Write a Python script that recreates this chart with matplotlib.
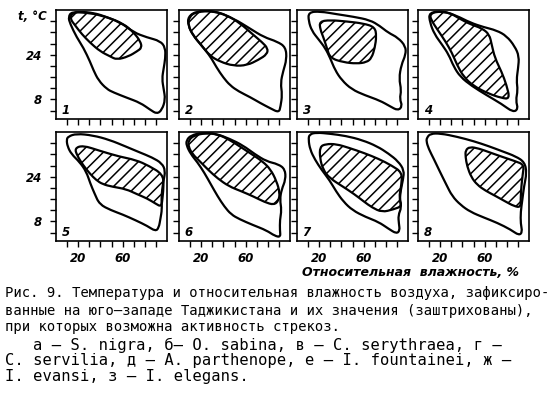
import matplotlib.pyplot as plt
from matplotlib.path import Path
from matplotlib.patches import PathPatch

plt.rcParams['hatch.linewidth'] = 1.1
plt.rcParams['font.family'] = ['DejaVu Sans']

# contours: (relative humidity %, temperature C)
outer_1 = [(14.2, 39.4), (27.7, 39.0), (39.8, 38.2), (57.8, 35.7), (69.9, 32.0), (81.9, 30.2),
           (94.0, 28.9), (98.5, 26.5), (98.5, 22.8), (97.0, 19.1), (95.5, 15.4), (97.0, 11.7),
           (98.5, 8.0), (95.5, 4.3), (91.0, 2.8), (84.9, 4.3), (75.9, 6.8), (63.9, 8.6),
           (51.8, 10.5), (45.8, 11.7), (38.3, 14.8), (33.7, 18.5), (30.7, 21.5), (24.7, 26.5),
           (18.7, 30.2), (12.7, 35.1), (11.1, 37.5)]
hatch_1 = [(14.2, 38.8), (21.7, 39.4), (33.7, 39.0), (45.8, 37.5), (60.8, 35.1), (69.9, 32.0),
           (75.9, 28.9), (77.4, 26.5), (72.9, 25.2), (65.4, 23.4), (54.8, 22.2), (48.8, 23.4),
           (39.8, 25.2), (30.7, 28.3), (23.2, 31.4), (17.2, 34.5), (12.7, 36.9)]

outer_2 = [(8.2, 37.6), (15.8, 39.6), (30.9, 39.8), (49.1, 37.0), (64.2, 33.3), (76.4, 30.3),
           (88.5, 28.7), (96.1, 26.7), (97.0, 22.4), (93.9, 18.2), (91.5, 13.9), (93.0, 9.7),
           (91.5, 5.5), (90.0, 3.3), (82.4, 4.8), (73.3, 6.7), (64.2, 8.8), (53.6, 10.9),
           (46.1, 13.0), (40.0, 15.8), (33.9, 19.4), (27.9, 23.6), (20.3, 27.3), (12.7, 30.9),
           (8.2, 34.5)]
hatch_2 = [(9.1, 37.6), (15.8, 39.4), (30.9, 39.6), (43.0, 38.2), (55.2, 35.2), (65.8, 31.5),
           (74.8, 28.5), (80.0, 26.3), (79.4, 24.2), (71.8, 22.2), (61.2, 20.2), (49.1, 20.0),
           (37.0, 21.5), (27.9, 23.6), (20.3, 27.3), (12.7, 30.9), (8.2, 34.5)]

outer_3 = [(10.4, 39.2), (20.9, 39.5), (35.8, 38.5), (50.7, 37.6), (65.7, 36.4), (74.6, 34.3),
           (82.1, 31.9), (91.0, 30.1), (97.9, 27.0), (97.9, 24.0), (94.0, 20.4), (91.9, 15.5),
           (94.0, 11.3), (92.5, 8.2), (94.9, 5.6), (91.0, 4.0), (83.6, 5.6), (74.6, 7.6),
           (61.2, 9.5), (49.3, 11.6), (40.3, 14.9), (34.3, 18.5), (29.9, 22.8), (25.4, 26.4),
           (19.4, 29.5), (13.4, 32.5), (10.4, 36.1)]
hatch_3 = [(20.3, 35.9), (29.9, 36.4), (44.8, 35.9), (59.7, 35.2), (70.1, 33.9), (71.6, 30.7),
           (70.1, 26.4), (67.2, 22.8), (62.7, 21.3), (53.7, 20.8), (41.8, 21.3), (29.9, 22.8),
           (26.9, 26.4), (23.9, 30.1), (20.9, 33.1)]

outer_4 = [(9.8, 39.2), (23.2, 39.5), (35.1, 37.9), (47.0, 35.5), (58.9, 33.9), (70.8, 32.7),
           (79.8, 30.7), (87.2, 27.0), (91.1, 23.4), (90.2, 19.2), (88.7, 14.9), (89.9, 11.3),
           (88.1, 7.6), (90.2, 4.6), (85.7, 3.4), (75.3, 6.4), (61.9, 9.5), (48.5, 12.8),
           (38.1, 16.1), (32.1, 19.8), (27.7, 24.0), (21.7, 27.6), (14.9, 31.3), (10.7, 35.5)]
hatch_4 = [(10.7, 38.5), (17.3, 39.5), (27.7, 39.2), (36.6, 37.1), (47.0, 34.9), (57.4, 33.5),
           (64.3, 31.3), (66.4, 27.6), (69.3, 22.8), (75.3, 17.9), (79.8, 13.1), (82.7, 8.2),
           (75.3, 8.5), (63.4, 10.1), (50.0, 12.8), (41.1, 16.1), (35.1, 20.4), (30.7, 24.6),
           (24.7, 28.8), (17.3, 33.1), (11.9, 36.4)]

outer_5 = [(11.0, 38.4), (18.4, 39.4), (33.2, 38.8), (48.1, 37.2), (62.9, 34.8), (74.8, 32.8),
           (86.6, 30.9), (95.5, 28.8), (98.5, 26.1), (97.0, 22.8), (95.5, 19.2), (95.0, 15.6),
           (95.5, 12.4), (94.1, 9.0), (92.6, 5.7), (89.6, 4.5), (82.2, 6.4), (71.8, 8.4),
           (59.9, 10.5), (49.6, 12.0), (39.2, 14.1), (34.7, 18.0), (30.9, 21.6), (27.3, 25.8),
           (21.4, 29.2), (13.9, 32.1), (10.4, 34.8), (9.5, 37.2)]
hatch_5 = [(16.9, 34.2), (24.3, 35.2), (39.2, 33.3), (57.0, 31.2), (71.8, 30.0), (83.7, 27.9),
           (96.1, 24.9), (97.0, 21.0), (96.1, 16.8), (95.0, 13.2), (89.6, 14.4), (82.2, 16.2),
           (73.3, 17.7), (62.9, 19.6), (51.0, 20.4), (42.1, 21.3), (36.2, 22.8), (30.3, 25.2),
           (24.3, 28.2), (19.0, 31.6)]

outer_6 = [(6.7, 37.0), (10.6, 38.8), (21.2, 39.8), (33.3, 39.4), (45.5, 37.6), (57.6, 35.2),
           (68.2, 32.1), (78.8, 29.5), (89.4, 28.5), (95.5, 26.7), (96.1, 23.0), (92.4, 19.4),
           (90.9, 15.8), (92.4, 12.1), (90.9, 8.5), (90.9, 4.8), (91.5, 2.4), (86.4, 2.8),
           (78.8, 4.8), (66.7, 6.7), (54.5, 8.8), (47.0, 10.5), (40.9, 13.3), (34.8, 17.0),
           (28.8, 21.2), (22.7, 25.5), (16.7, 29.1), (10.6, 32.1), (6.7, 35.2)]
hatch_6 = [(8.5, 37.0), (13.6, 38.8), (24.2, 39.6), (34.8, 39.2), (45.5, 37.2), (56.1, 34.5),
           (66.1, 31.9), (75.2, 29.5), (82.4, 26.7), (87.9, 22.4), (90.9, 18.2), (89.7, 15.4),
           (85.5, 13.9), (77.3, 14.9), (66.7, 17.0), (56.1, 18.8), (44.8, 20.6), (34.8, 23.4),
           (26.7, 26.3), (18.8, 29.5), (12.1, 32.1), (8.5, 34.8)]

outer_7 = [(11.2, 39.2), (17.6, 39.8), (29.4, 39.4), (44.1, 38.6), (58.8, 37.1), (72.1, 34.9),
           (82.4, 32.3), (91.2, 29.5), (96.5, 26.3), (95.6, 23.1), (93.5, 19.3), (92.6, 15.7),
           (94.1, 13.0), (91.2, 10.2), (91.8, 7.2), (92.6, 4.8), (89.7, 3.6), (82.4, 5.4),
           (73.5, 7.8), (61.8, 9.6), (50.0, 12.0), (41.8, 15.1), (35.3, 18.7), (29.4, 22.7),
           (22.1, 26.5), (16.2, 30.1), (11.8, 33.7), (10.3, 37.3)]
hatch_7 = [(20.6, 34.7), (25.9, 35.7), (35.3, 35.7), (47.1, 34.3), (60.3, 32.5), (73.5, 30.4),
           (85.3, 28.0), (94.7, 25.5), (94.1, 21.1), (91.8, 16.3), (94.7, 13.5), (86.8, 12.3),
           (76.5, 11.3), (67.6, 13.0), (60.3, 15.1), (51.5, 17.8), (41.2, 20.5), (29.4, 23.5),
           (23.5, 26.5), (20.6, 30.7)]

outer_8 = [(8.1, 38.0), (11.1, 39.4), (20.2, 39.5), (35.2, 38.3), (50.3, 36.7), (63.9, 34.9),
           (75.9, 33.1), (88.0, 31.3), (96.1, 29.2), (97.9, 25.3), (95.5, 20.5), (94.0, 15.7),
           (92.5, 11.4), (92.5, 7.2), (94.0, 4.2), (91.0, 3.0), (83.4, 5.1), (71.4, 7.5),
           (59.3, 9.4), (47.3, 11.4), (38.3, 13.9), (30.7, 17.1), (25.6, 21.1), (19.6, 25.9),
           (14.2, 30.4), (9.6, 34.0), (7.5, 36.7)]
hatch_8 = [(42.8, 33.5), (46.7, 34.7), (54.8, 34.1), (63.9, 32.8), (75.9, 31.1), (88.0, 29.5),
           (95.5, 28.3), (94.3, 24.7), (93.1, 20.5), (92.5, 16.3), (92.5, 13.0), (86.4, 13.5),
           (78.9, 15.1), (69.9, 17.1), (60.8, 19.0), (53.3, 21.1), (47.9, 23.9), (44.3, 27.7),
           (42.8, 31.1)]

outers = [outer_1, outer_2, outer_3, outer_4, outer_5, outer_6, outer_7, outer_8]
hatches = [hatch_1, hatch_2, hatch_3, hatch_4, hatch_5, hatch_6, hatch_7, hatch_8]
panel_labels = ['1', '2', '3', '4', '5', '6', '7', '8']

x_ticks = [10, 20, 30, 40, 50, 60, 70, 80, 90]
x_labels = ['', '20', '', '', '', '60', '', '', '']
y_ticks = [4, 8, 12, 16, 20, 24, 28, 32, 36]
y_labels = ['', '8', '', '', '', '24', '', '', '']

caption = [
    'Рис. 9. Температура и относительная влажность воздуха, зафиксиро-',
    'ванные на юго–западе Таджикистана и их значения (заштрихованы),',
    'при которых возможна активность стрекоз.',
]
species = [
    'а – S. nigra, б– O. sabina, в – C. serythraea, г –',
    'C. servilia, д – A. parthenope, е – I. fountainei, ж –',
    'I. evansi, з – I. elegans.',
]


def smooth(pts):
    # closed quadratic curve through the midpoints of the traced points
    n = len(pts)
    mids = [((pts[i][0] + pts[(i + 1) % n][0]) / 2, (pts[i][1] + pts[(i + 1) % n][1]) / 2)
            for i in range(n)]
    verts = [mids[-1]]
    codes = [Path.MOVETO]
    for i in range(n):
        verts += [pts[i], mids[i]]
        codes += [Path.CURVE3, Path.CURVE3]
    verts.append(mids[-1])
    codes.append(Path.CLOSEPOLY)
    return Path(verts, codes)


W, H = 559, 397
fig = plt.figure(figsize=(W / 100, H / 100), dpi=100)

col_left = [56, 179, 297, 418]
row_top = [10, 132]
pw, ph = 111, 109

num_font = dict(fontstyle='italic', fontweight='bold', fontsize=8.5)

for i in range(8):
    r, c = divmod(i, 4)
    ax = fig.add_axes([col_left[c] / W, 1 - (row_top[r] + ph) / H, pw / W, ph / H])
    ax.set_xlim(0, 100)
    ax.set_ylim(1, 40)
    ax.add_patch(PathPatch(smooth(outers[i]), facecolor='none', edgecolor='black',
                           lw=1.6, joinstyle='round'))
    ax.add_patch(PathPatch(smooth(hatches[i]), facecolor='none', edgecolor='black',
                           lw=1.6, hatch='///', joinstyle='round'))
    for s in ax.spines.values():
        s.set_linewidth(1.2)
    ax.set_xticks(x_ticks)
    ax.set_yticks(y_ticks)
    ax.tick_params(direction='out', length=4, width=1, pad=4)
    ax.tick_params(right=False, top=False)
    if r == 1:
        ax.set_xticklabels(x_labels, **num_font)
    else:
        ax.set_xticklabels([])
    if c == 0:
        ax.set_yticklabels(y_labels, **num_font)
        ax.tick_params(axis='y', pad=6)
        if r == 0:
            ax.text(-0.08, 37.5, 't, °C', transform=ax.get_yaxis_transform(),
                    ha='right', va='center', **num_font)
    else:
        ax.set_yticklabels([])
    ax.text(0.05, 0.02, panel_labels[i], transform=ax.transAxes,
            ha='left', va='bottom', **num_font)

fig.text(411 / W, 1 - 273 / H, 'Относительная  влажность, %', ha='center', va='center',
         fontstyle='italic', fontweight='bold', fontsize=9)

cap_y = [293, 311, 327]
for y, line in zip(cap_y, caption):
    fig.text(5 / W, 1 - y / H, line, ha='left', va='center',
             family='DejaVu Sans Mono', fontsize=10)

sp_y = [345, 360, 377]
sp_x = [33, 5, 5]
for x, y, line in zip(sp_x, sp_y, species):
    fig.text(x / W, 1 - y / H, line, ha='left', va='center',
             family='DejaVu Sans Mono', fontsize=11.2)

fig.savefig('out.png', dpi=100)
